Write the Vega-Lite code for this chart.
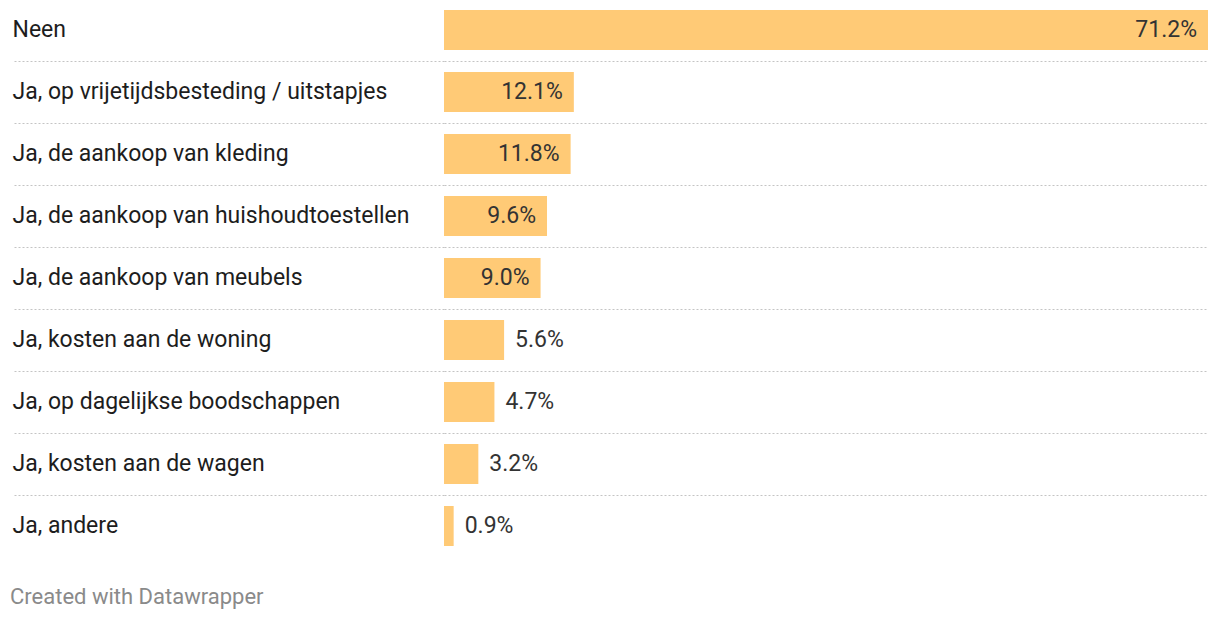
{
  "$schema": "https://vega.github.io/schema/vega-lite/v6.json",
  "width": 764,
  "height": 558,
  "autosize": {"type": "none"},
  "padding": {"left": 444, "top": -1, "right": 12, "bottom": 65},
  "background": "#ffffff",
  "config": {
    "view": {"stroke": null},
    "font": "Roboto",
    "title": {"font": "Roboto"}
  },
  "title": {
    "text": "Created with Datawrapper",
    "orient": "bottom",
    "anchor": "start",
    "frame": "group",
    "dx": -434,
    "offset": 30,
    "baseline": "top",
    "fontSize": 22,
    "fontWeight": "normal",
    "color": "#8a8a8a"
  },
  "data": {
    "values": [
      {"category": "Neen", "value": 0.712},
      {"category": "Ja, op vrijetijdsbesteding / uitstapjes", "value": 0.121},
      {"category": "Ja, de aankoop van kleding", "value": 0.118},
      {"category": "Ja, de aankoop van huishoudtoestellen", "value": 0.096},
      {"category": "Ja, de aankoop van meubels", "value": 0.090},
      {"category": "Ja, kosten aan de woning", "value": 0.056},
      {"category": "Ja, op dagelijkse boodschappen", "value": 0.047},
      {"category": "Ja, kosten aan de wagen", "value": 0.032},
      {"category": "Ja, andere", "value": 0.009}
    ]
  },
  "encoding": {
    "y": {
      "field": "category",
      "type": "nominal",
      "sort": null,
      "scale": {"paddingInner": 0.3548, "paddingOuter": 0.1774},
      "axis": {
        "title": null,
        "orient": "left",
        "domain": false,
        "bandPosition": 1.2875,
        "ticks": true,
        "tickSize": 432,
        "tickWidth": 1,
        "tickColor": "#c4c4c4",
        "tickDash": [2, 2],
        "tickOpacity": {"condition": {"test": "datum.value === 'Ja, andere'", "value": 0}, "value": 1},
        "grid": true,
        "gridColor": "#c4c4c4",
        "gridWidth": 1,
        "gridDash": [2, 2],
        "gridOpacity": {"condition": {"test": "datum.value === 'Ja, andere'", "value": 0}, "value": 1},
        "labelAlign": "left",
        "labelBaseline": "middle",
        "labelPadding": 0,
        "labelFont": "Roboto",
        "labelFontSize": 23,
        "labelColor": "#1d1d1d",
        "labelLimit": 0
      }
    }
  },
  "layer": [
    {
      "mark": {"type": "bar", "color": "#ffca76"},
      "encoding": {
        "x": {
          "field": "value",
          "type": "quantitative",
          "scale": {"domain": [0, 0.712], "nice": false},
          "axis": null
        }
      }
    },
    {
      "transform": [{"filter": "datum.value >= 0.08"}],
      "mark": {"type": "text", "align": "right", "baseline": "middle", "dx": -11, "fontSize": 23, "font": "Roboto", "color": "#333333"},
      "encoding": {
        "x": {"field": "value", "type": "quantitative"},
        "text": {"field": "value", "type": "quantitative", "format": ".1%"}
      }
    },
    {
      "transform": [{"filter": "datum.value < 0.08"}],
      "mark": {"type": "text", "align": "left", "baseline": "middle", "dx": 11, "fontSize": 23, "font": "Roboto", "color": "#333333"},
      "encoding": {
        "x": {"field": "value", "type": "quantitative"},
        "text": {"field": "value", "type": "quantitative", "format": ".1%"}
      }
    }
  ]
}
